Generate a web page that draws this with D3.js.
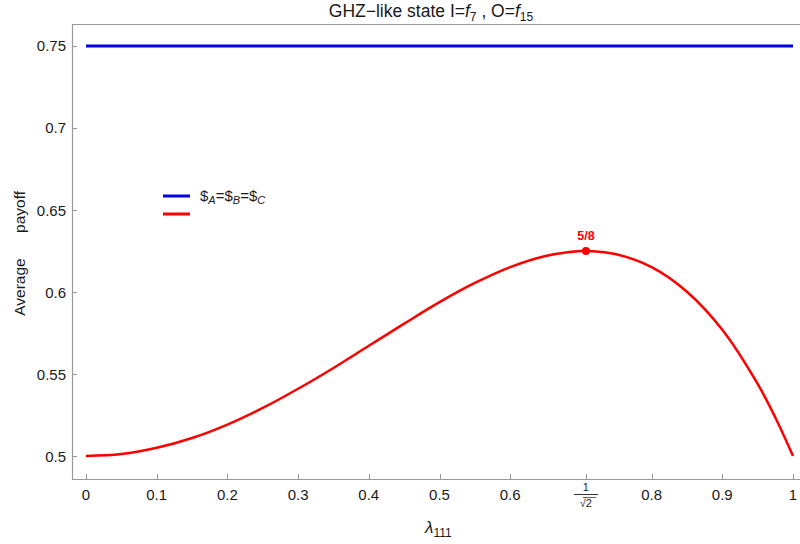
<!DOCTYPE html>
<html>
<head>
<meta charset="utf-8">
<script src="https://cdn.jsdelivr.net/npm/d3@7"></script>
<style>
  body { margin: 0; background: #fff; }
  svg { font-family: "Liberation Sans", Arial, sans-serif; }
</style>
</head>
<body>
<div id="chart"></div>
<script>
// values
const lambdaVals = [0, 0.05, 0.1, 0.15, 0.2, 0.25, 0.3, 0.35, 0.4, 0.45, 0.5, 0.55, 0.6, 0.65, 0.7, 0.7071, 0.75, 0.8, 0.85, 0.9, 0.95, 0.975, 1];
const redPayoff = [0.5, 0.5012, 0.505, 0.511, 0.5192, 0.5293, 0.541, 0.5537, 0.5672, 0.5807, 0.5938, 0.6055, 0.6152, 0.622, 0.625, 0.625, 0.623, 0.6152, 0.6002, 0.577, 0.544, 0.5235, 0.5];
const bluePayoff = [0.75, 0.75];
const blueLambda = [0, 1];
const peak = { x: 0.7071, y: 0.625, label: "5/8" };
const xTicks = [0, 0.1, 0.2, 0.3, 0.4, 0.5, 0.6, 0.7071, 0.8, 0.9, 1];
const yTicks = [0.5, 0.55, 0.6, 0.65, 0.7, 0.75];

const width = 800, height = 544;
const axisColor = "#999";
const textColor = "#1a1a1a";

const svg = d3.select("#chart").append("svg")
    .attr("width", width)
    .attr("height", height);

const x = d3.scaleLinear().domain([-0.0198, 1.0198]).range([72, 807]);
const y = d3.scaleLinear().domain([0.486, 0.7634]).range([479, 24]);

// frame lines
svg.append("line").attr("x1", 72).attr("x2", width).attr("y1", 24.5).attr("y2", 24.5)
    .attr("stroke", axisColor).attr("stroke-width", 1.2);
svg.append("line").attr("x1", 72.5).attr("x2", 72.5).attr("y1", 24).attr("y2", 479)
    .attr("stroke", axisColor).attr("stroke-width", 1.2);
svg.append("line").attr("x1", 72).attr("x2", width).attr("y1", 479.5).attr("y2", 479.5)
    .attr("stroke", axisColor).attr("stroke-width", 1.2);

// y ticks
const yAx = svg.append("g");
yTicks.forEach(t => {
    yAx.append("line").attr("x1", 72).attr("x2", 77)
        .attr("y1", Math.round(y(t)) + 0.5).attr("y2", Math.round(y(t)) + 0.5)
        .attr("stroke", axisColor);
    yAx.append("text").attr("x", 66).attr("y", y(t) + 5.5)
        .attr("text-anchor", "end").attr("font-size", 15).attr("fill", textColor)
        .text(d3.format("")(t));
});

// x ticks
const xAx = svg.append("g");
xTicks.forEach(t => {
    const px = Math.round(x(t)) + 0.5;
    xAx.append("line").attr("x1", px).attr("x2", px).attr("y1", 479).attr("y2", 474)
        .attr("stroke", axisColor);
    if (t === 0.7071) {
        xAx.append("text").attr("x", x(t)).attr("y", 491)
            .attr("text-anchor", "middle").attr("font-size", 11).attr("fill", textColor).text("1");
        xAx.append("line").attr("x1", x(t) - 12).attr("x2", x(t) + 12)
            .attr("y1", 494.5).attr("y2", 494.5).attr("stroke", textColor).attr("stroke-width", 0.9);
        xAx.append("text").attr("x", x(t)).attr("y", 507)
            .attr("text-anchor", "middle").attr("font-size", 11).attr("fill", textColor).text("\u221A2");
        xAx.append("line").attr("x1", x(t) - 3).attr("x2", x(t) + 10)
            .attr("y1", 497.5).attr("y2", 497.5).attr("stroke", textColor).attr("stroke-width", 0.7);
    } else {
        xAx.append("text").attr("x", x(t)).attr("y", 500)
            .attr("text-anchor", "middle").attr("font-size", 15).attr("fill", textColor)
            .text(d3.format("")(t));
    }
});

// title
const title = svg.append("text").attr("x", 431).attr("y", 17)
    .attr("text-anchor", "middle").attr("font-size", 17.5).attr("fill", textColor);
title.append("tspan").text("GHZ\u2212like state I=");
title.append("tspan").attr("font-style", "italic").text("f");
title.append("tspan").attr("font-size", 12).attr("dy", 4).text("7");
title.append("tspan").attr("dy", -4).text(" , O=");
title.append("tspan").attr("font-style", "italic").text("f");
title.append("tspan").attr("font-size", 12).attr("dy", 4).text("15");

// axis labels
const xl = svg.append("text").attr("x", 425).attr("y", 533)
    .attr("font-size", 17).attr("fill", textColor);
xl.append("tspan").attr("font-style", "italic").text("\u03BB");
xl.append("tspan").attr("font-size", 12).attr("dy", 4).text("111");

svg.append("text")
    .attr("transform", "translate(25,287) rotate(-90)")
    .attr("text-anchor", "middle").attr("font-size", 15.5).attr("fill", textColor)
    .text("Average");
svg.append("text")
    .attr("transform", "translate(25,212) rotate(-90)")
    .attr("text-anchor", "middle").attr("font-size", 15.5).attr("fill", textColor)
    .text("payoff");

// lines
const line = d3.line()
    .x(d => x(d[0]))
    .y(d => y(d[1]))
    .curve(d3.curveCatmullRom.alpha(0.5));

svg.append("path")
    .datum(blueLambda.map((l, i) => [l, bluePayoff[i]]))
    .attr("fill", "none").attr("stroke", "#0000ee").attr("stroke-width", 3)
    .attr("d", line);

svg.append("path")
    .datum(lambdaVals.map((l, i) => [l, redPayoff[i]]))
    .attr("fill", "none").attr("stroke", "#ff0000").attr("stroke-width", 2.5)
    .attr("d", line);

// peak marker
svg.append("circle").attr("cx", x(peak.x)).attr("cy", y(peak.y)).attr("r", 4)
    .attr("fill", "#ff0000");
svg.append("text").attr("x", x(peak.x)).attr("y", y(peak.y) - 11)
    .attr("text-anchor", "middle").attr("font-size", 12.5).attr("font-weight", "bold")
    .attr("fill", "#ff0000").text(peak.label);

// legend
const lg = svg.append("g");
lg.append("line").attr("x1", 163).attr("x2", 190).attr("y1", 196).attr("y2", 196)
    .attr("stroke", "#0000ee").attr("stroke-width", 3);
lg.append("line").attr("x1", 163).attr("x2", 190).attr("y1", 214).attr("y2", 214)
    .attr("stroke", "#ff0000").attr("stroke-width", 3);
const lt = lg.append("text").attr("x", 200).attr("y", 201)
    .attr("font-size", 15).attr("fill", textColor);
[["A", "=$"], ["B", "=$"], ["C", ""]].forEach(([s, after], i) => {
    if (i === 0) lt.append("tspan").text("$");
    lt.append("tspan").attr("font-size", 11).attr("font-style", "italic").attr("dy", 3).text(s);
    lt.append("tspan").attr("dy", -3).text(after);
});
</script>
</body>
</html>
